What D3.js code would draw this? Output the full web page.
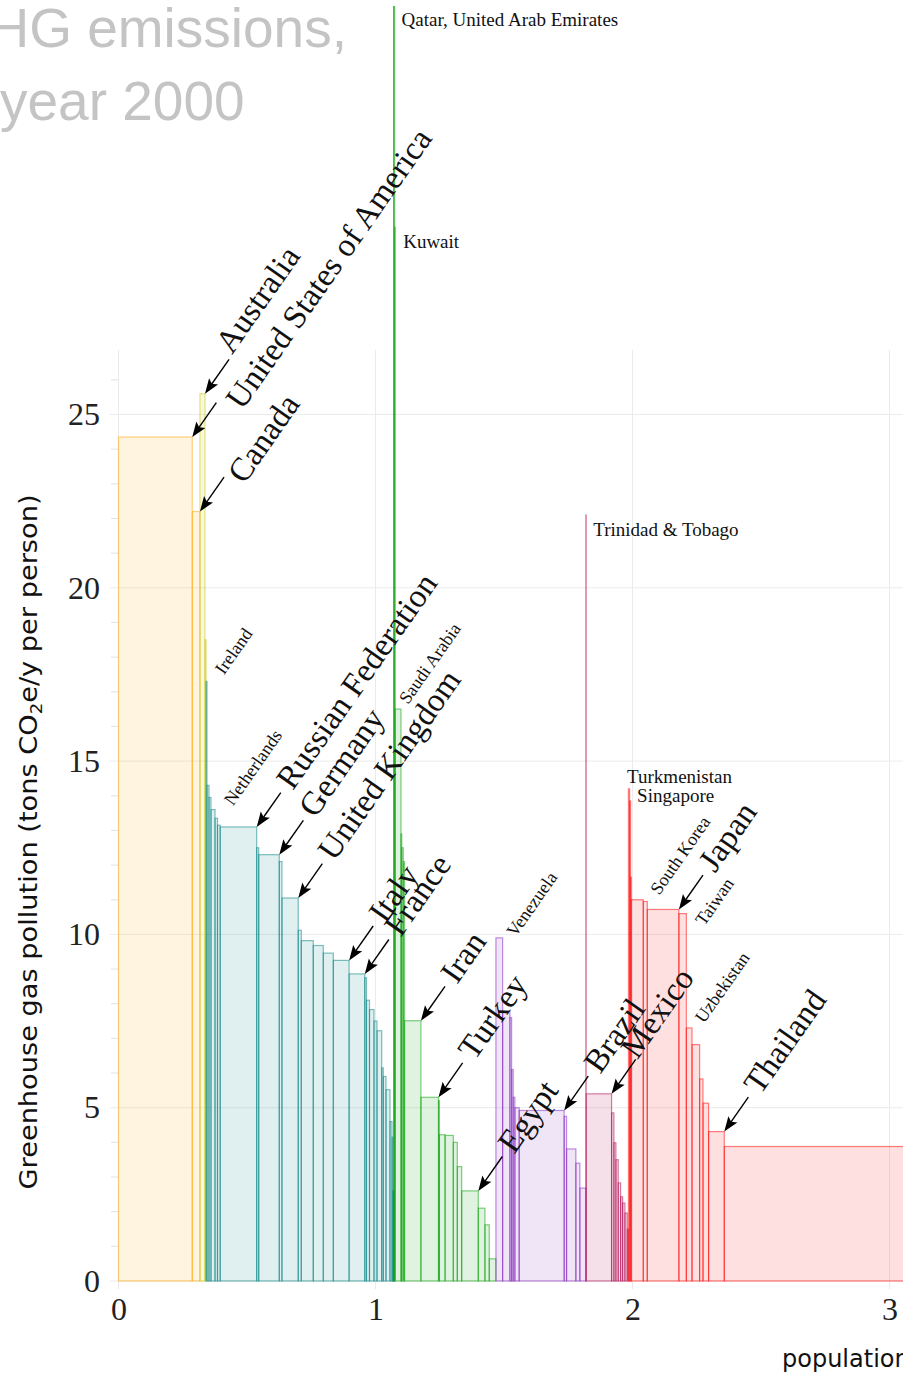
<!DOCTYPE html>
<html>
<head>
<meta charset="utf-8">
<script src="https://cdn.jsdelivr.net/npm/d3@7/dist/d3.min.js"></script>
<style>
  body { margin: 0; background: #fff; }
  svg { display: block; }
</style>
</head>
<body>
<svg id="chart" width="903" height="1376"></svg>
<script>
// ---------------------------------------------------------------
// Per-capita greenhouse gas emissions (t CO2e / person / year, 2000)
// against cumulative population (billions), grouped by region and
// sorted within each region from highest to lowest emitter.
// ---------------------------------------------------------------

const regionNames  = ["North America", "Oceania", "Europe", "Middle East & North Africa",
                      "South America", "Central America & Caribbean", "Asia"];
const regionColors = ["#ffa500", "#c8c800", "#008080", "#00a000", "#8020c0", "#b0004b", "#ff0000"];

const northAmericaNames = ["United States of America", "Canada"];
const northAmericaPop   = [0.287, 0.030];
const northAmericaGhg   = [24.35, 22.2];

const oceaniaNames = ["Australia", "New Zealand"];
const oceaniaPop   = [0.0195, 0.004];
const oceaniaGhg   = [25.6, 18.5];

const europeNames = ["Ireland", "Belgium", "Finland", "Netherlands", "Denmark", "Czech Republic",
  "Russian Federation", "Estonia", "Germany", "Austria", "United Kingdom", "Greece", "Ukraine",
  "Poland", "Spain", "Italy", "France", "Norway", "Kazakhstan", "Romania", "Bulgaria", "Serbia",
  "Switzerland", "Sweden", "Hungary", "Portugal", "Croatia", "Albania", "Moldova"];
const europePop = [0.0038, 0.0078, 0.0078, 0.0156, 0.0097, 0.0105,
  0.142, 0.0078, 0.080, 0.0105, 0.0634, 0.0117, 0.0467,
  0.039, 0.039, 0.0615, 0.061, 0.0066, 0.0117, 0.0175, 0.0117, 0.0183,
  0.0062, 0.0105, 0.0156, 0.0078, 0.0039, 0.002, 0.0005];
const europeGhg = [17.3, 14.3, 13.95, 13.6, 13.35, 13.15,
  13.1, 12.5, 12.3, 12.1, 11.05, 10.12, 9.82,
  9.68, 9.46, 9.25, 8.86, 8.75, 8.1, 7.83, 7.5, 7.22,
  6.15, 5.9, 5.52, 4.6, 4.15, 2.6, 2.6];

const meNames = ["Qatar", "United Arab Emirates", "Kuwait", "Saudi Arabia", "Oman", "Israel",
  "Libya", "Iran", "Turkey", "Jordan", "Iraq", "Algeria", "Syria", "Tunisia", "Egypt",
  "Morocco", "Yemen", "Sudan"];
const mePop = [0.0006, 0.0032, 0.0022, 0.0225, 0.003, 0.006,
  0.0048, 0.0638, 0.0685, 0.0035, 0.022, 0.032, 0.0156, 0.017, 0.0646,
  0.026, 0.0167, 0.026];
const meGhg = [62.0, 40.0, 30.4, 16.5, 12.9, 12.5,
  12.1, 7.51, 5.3, 5.2, 4.22, 4.2, 4.0, 3.3, 2.6,
  2.1, 1.62, 0.64];

const southAmericaNames = ["Venezuela", "Argentina", "Uruguay", "Suriname", "Guyana", "Chile",
  "Brazil", "Bolivia", "Colombia", "Ecuador", "Peru"];
const southAmericaPop = [0.026, 0.0284, 0.0066, 0.0062, 0.0066, 0.0167,
  0.175, 0.0093, 0.0362, 0.0156, 0.0233];
const southAmericaGhg = [9.9, 7.78, 7.6, 6.1, 5.3, 5.0,
  4.92, 4.75, 3.81, 3.4, 2.68];

const centralNames = ["Trinidad & Tobago", "Mexico", "Cuba", "Guatemala", "Dominican Republic",
  "Honduras", "El Salvador", "Nicaragua", "Haiti", "Jamaica"];
const centralPop = [0.0013, 0.0988, 0.009, 0.0078, 0.009,
  0.0093, 0.0078, 0.009, 0.009, 0.0047];
const centralGhg = [22.1, 5.4, 4.85, 3.99, 3.5,
  2.83, 2.43, 2.25, 1.96, 1.5];

const asiaNames = ["Turkmenistan", "Singapore", "Mongolia", "South Korea", "Malaysia", "Japan",
  "Taiwan", "Uzbekistan", "North Korea", "Kyrgyzstan", "Azerbaijan", "Thailand", "China"];
const asiaPop = [0.0045, 0.004, 0.0025, 0.0467, 0.0156, 0.123,
  0.029, 0.022, 0.0296, 0.0132, 0.0218, 0.061, 1.27];
const asiaGhg = [14.2, 13.85, 11.65, 11.0, 10.95, 10.72,
  10.6, 7.3, 6.82, 5.83, 5.13, 4.31, 3.88];

const yTicks = [0, 5, 10, 15, 20, 25];
const xTicks = [0, 1, 2, 3];

// Countries annotated with a large arrow label
const calloutNames = ["Australia", "United States of America", "Canada", "Russian Federation",
  "Germany", "United Kingdom", "Italy", "France", "Iran", "Turkey", "Egypt", "Brazil",
  "Mexico", "Japan", "Thailand"];
// Text placement along / across the arrow for labels that need to dodge a neighbour
const calloutNudge = {
  "Australia": [47, 0],
  "United States of America": [50, 26],
  "Canada": [47, 21],
  "Mexico": [42, 2]
};

// Small slanted labels: name, offset from the bar's top-right corner
const slantLabels = [
  ["Ireland", 17, -6], ["Netherlands", 18, -3], ["Saudi Arabia", 7, -4],
  ["Venezuela", 13, 0], ["South Korea", 16, -4], ["Taiwan", 18, 13], ["Uzbekistan", 12, -4]
];

// Small horizontal labels: text, anchor country, offset from the bar's top-right corner
const flatLabels = [
  ["Qatar, United Arab Emirates", "United Arab Emirates", 7, 20],
  ["Kuwait", "Kuwait", 8, 21],
  ["Trinidad & Tobago", "Trinidad & Tobago", 7, 21],
  ["Turkmenistan", "Turkmenistan", -2.5, -6],
  ["Singapore", "Singapore", 6.5, 1]
];

// ---------------------------------------------------------------
const groups = [
  [northAmericaNames, northAmericaPop, northAmericaGhg],
  [oceaniaNames, oceaniaPop, oceaniaGhg],
  [europeNames, europePop, europeGhg],
  [meNames, mePop, meGhg],
  [southAmericaNames, southAmericaPop, southAmericaGhg],
  [centralNames, centralPop, centralGhg],
  [asiaNames, asiaPop, asiaGhg]
];

const bars = [];
let cum = 0;
groups.forEach(([names, pops, ghg], r) => {
  names.forEach((name, i) => {
    bars.push({ name, region: r, x0: cum, x1: cum + pops[i], v: ghg[i] });
    cum += pops[i];
  });
});
const byName = new Map(bars.map(b => [b.name, b]));

const W = 903, H = 1376;
const svg = d3.select("#chart");
const x = d3.scaleLinear().domain([0, 3]).range([118.5, 889.5]);
const y = d3.scaleLinear().domain([0, 25]).range([1281, 414.5]);
const plotTop = 350;
const clipTop = 6;

const serif = "'Palatino Linotype', Palatino, 'URW Palladio L', 'Liberation Serif', serif";
const sans = "'DejaVu Sans', sans-serif";

// Title
const title = svg.append("g").attr("font-family", "'Liberation Sans', Arial, sans-serif")
  .attr("font-size", 55).attr("fill", "#c4c4c4");
title.append("text").attr("x", 347).attr("y", 47).attr("text-anchor", "end").text("GHG emissions,");
title.append("text").attr("x", 0).attr("y", 120).text("year 2000");

// Grid
const grid = svg.append("g").attr("stroke", "#ebebeb").attr("stroke-width", 1);
grid.selectAll("line.h").data(yTicks).join("line").attr("class", "h")
  .attr("x1", 110).attr("x2", W).attr("y1", d => y(d)).attr("y2", d => y(d));
grid.selectAll("line.v").data(xTicks).join("line").attr("class", "v")
  .attr("x1", d => x(d)).attr("x2", d => x(d)).attr("y1", plotTop).attr("y2", y(0) + 8);
grid.selectAll("line.m").data(d3.range(0, 27).filter(d => d % 5 !== 0)).join("line").attr("class", "m")
  .attr("x1", 111).attr("x2", x(0)).attr("y1", d => y(d)).attr("y2", d => y(d))
  .attr("stroke", "#e2e2e2");

// Axes (labels only)
const yAxis = svg.append("g").attr("transform", `translate(${x(0)},0)`)
  .call(d3.axisLeft(y).tickValues(yTicks).tickSize(0).tickPadding(18.5));
const xAxis = svg.append("g").attr("transform", `translate(0,${y(0)})`)
  .call(d3.axisBottom(x).tickValues(xTicks).tickFormat(d3.format("d")).tickSize(0).tickPadding(16));
[yAxis, xAxis].forEach(a => {
  a.select(".domain").remove();
  a.selectAll("text").attr("font-family", serif).attr("font-size", 32).attr("fill", "#222");
});

// Axis titles
const yTitle = svg.append("text")
  .attr("transform", `translate(37,842) rotate(-90)`)
  .attr("text-anchor", "middle").attr("font-family", sans).attr("font-size", 24).attr("fill", "#111")
  .attr("textLength", 695).attr("lengthAdjust", "spacingAndGlyphs");
yTitle.append("tspan").text("Greenhouse gas pollution (tons CO");
yTitle.append("tspan").attr("font-size", 16).attr("dy", 5).text("2");
yTitle.append("tspan").attr("dy", -5).text("e/y per person)");

svg.append("text").attr("x", 782).attr("y", 1367)
  .attr("font-family", sans).attr("font-size", 24).attr("fill", "#111")
  .text("population (billions)");

// Bars
svg.append("clipPath").attr("id", "plotclip")
  .append("rect").attr("x", 0).attr("y", clipTop).attr("width", W).attr("height", H);

svg.append("g").attr("clip-path", "url(#plotclip)")
  .selectAll("rect").data(bars).join("rect")
  .attr("x", d => x(d.x0))
  .attr("width", d => x(d.x1) - x(d.x0))
  .attr("y", d => y(d.v))
  .attr("height", d => y(0) - y(d.v))
  .attr("fill", d => regionColors[d.region]).attr("fill-opacity", 0.12)
  .attr("stroke", d => regionColors[d.region]).attr("stroke-opacity", 0.5)
  .attr("stroke-width", 1.2);

// Annotations
const angle = -55;
const ann = svg.append("g").attr("font-family", serif).attr("fill", "#111");

const callouts = ann.selectAll("g.callout").data(calloutNames.map(n => byName.get(n))).join("g")
  .attr("class", "callout")
  .attr("transform", d => `translate(${x(d.x1)},${y(d.v)}) rotate(${angle})`);
callouts.append("line").attr("x1", 10).attr("x2", 42).attr("y1", 0).attr("y2", 0)
  .attr("stroke", "#000").attr("stroke-width", 1.4);
callouts.append("path").attr("d", "M0,0 L15,-5.5 L12,0 L15,5.5 Z").attr("fill", "#000");
callouts.append("text")
  .attr("x", d => (calloutNudge[d.name] || [50, 9])[0])
  .attr("y", d => (calloutNudge[d.name] || [50, 9])[1])
  .attr("font-size", 33)
  .text(d => d.name);

ann.selectAll("text.slant").data(slantLabels).join("text").attr("class", "slant")
  .attr("transform", ([n, dx, dy]) => {
    const b = byName.get(n);
    return `translate(${x(b.x1) + dx},${y(b.v) + dy}) rotate(${angle})`;
  })
  .attr("font-size", 18).text(d => d[0]);

ann.selectAll("text.flat").data(flatLabels).join("text").attr("class", "flat")
  .attr("x", ([, n, dx]) => x(byName.get(n).x1) + dx)
  .attr("y", ([, n, , dy]) => Math.max(y(byName.get(n).v), clipTop) + dy)
  .attr("font-size", 19).text(d => d[0]);
</script>
</body>
</html>
